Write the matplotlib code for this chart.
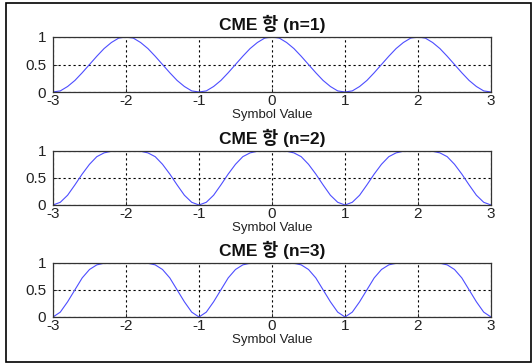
import matplotlib
matplotlib.use("Agg")
import matplotlib.pyplot as plt
from matplotlib.patches import Rectangle

x_values = [round(-3 + 0.1 * i, 1) for i in range(61)]

cme_n1 = [0, .02, .10, .21, .35, .50, .65, .79, .90, .98, 1,
          .98, .90, .79, .65, .50, .35, .21, .10, .02, 0,
          .02, .10, .21, .35, .50, .65, .79, .90, .98, 1,
          .98, .90, .79, .65, .50, .35, .21, .10, .02, 0,
          .02, .10, .21, .35, .50, .65, .79, .90, .98, 1,
          .98, .90, .79, .65, .50, .35, .21, .10, .02, 0]

cme_n2 = [0, .05, .18, .37, .57, .75, .89, .96, .99, 1, 1,
          1, .99, .96, .89, .75, .57, .37, .18, .05, 0,
          .05, .18, .37, .57, .75, .89, .96, .99, 1, 1,
          1, .99, .96, .89, .75, .57, .37, .18, .05, 0,
          .05, .18, .37, .57, .75, .89, .96, .99, 1, 1,
          1, .99, .96, .89, .75, .57, .37, .18, .05, 0]

cme_n3 = [0, .09, .28, .50, .72, .875, .96, .99, 1, 1, 1,
          1, 1, .99, .96, .875, .72, .50, .28, .09, 0,
          .09, .28, .50, .72, .875, .96, .99, 1, 1, 1,
          1, 1, .99, .96, .875, .72, .50, .28, .09, 0,
          .09, .28, .50, .72, .875, .96, .99, 1, 1, 1,
          1, 1, .99, .96, .875, .72, .50, .28, .09, 0]

titles = ["CME 항 (n=1)", "CME 항 (n=2)", "CME 항 (n=3)"]
series = [cme_n1, cme_n2, cme_n3]
x_ticks = [-3, -2, -1, 0, 1, 2, 3]
y_ticks = [0, 0.5, 1]
y_tick_labels = ["0", "0.5", "1"]
x_label = "Symbol Value"

fonts = ['Liberation Sans', 'Noto Sans CJK KR', 'DejaVu Sans']
plt.rcParams['font.family'] = fonts

W, H = 532, 364
fig = plt.figure(figsize=(W / 100, H / 100), dpi=100)

# axes pixel boxes: (left, top, right, bottom)
boxes = [(53, 37, 491, 92), (53, 150.7, 491, 205), (53, 262.7, 491, 317)]

for (l, t, r, b), ttl, ys in zip(boxes, titles, series):
    ax = fig.add_axes([l / W, 1 - b / H, (r - l) / W, (b - t) / H])
    ax.plot(x_values, ys, color=(0.3, 0.3, 1.0), lw=0.8)
    ax.set_xlim(-3, 3)
    ax.set_ylim(0, 1)
    ax.set_xticks(x_ticks)
    ax.set_xticklabels([str(v) for v in x_ticks])
    ax.set_yticks(y_ticks)
    ax.set_yticklabels(y_tick_labels)
    ax.grid(True, color='black', linestyle=(0, (2, 2.5)), linewidth=0.8)
    ax.tick_params(axis='both', direction='in', length=3, width=0.6,
                   labelsize=11, colors='#222222')
    ax.tick_params(axis='x', pad=1.5)
    ax.tick_params(axis='y', pad=5)
    for s in ax.spines.values():
        s.set_color('#333333')
        s.set_linewidth(0.9)
    ax.set_title(ttl, fontsize=12.5, fontweight='bold', pad=5, color='#111111')
    ax.set_xlabel(x_label, fontsize=9.5, labelpad=1, color='#222222')

fig.patches.append(Rectangle((6 / W, 1 - 362 / H), (531 - 6) / W, (362 - 3) / H,
                             transform=fig.transFigure, fill=False,
                             edgecolor='black', linewidth=1.2))

fig.savefig("out.png", dpi=100)
